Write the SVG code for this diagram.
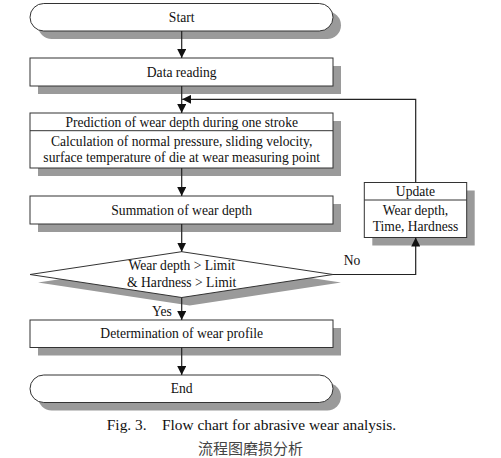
<svg xmlns="http://www.w3.org/2000/svg" width="501" height="458" viewBox="0 0 501 458">
<style>
.sh{fill:#9a9a9a;stroke:none}
.bx{fill:#fff;stroke:#333;stroke-width:1}
.t{font-family:"Liberation Serif","Times New Roman",serif;font-size:13.6px;fill:#111;text-anchor:middle}
.ln{fill:none;stroke:#222;stroke-width:1.2}
.cap{font-family:"Liberation Serif","Times New Roman",serif;font-size:15.4px;fill:#111;text-anchor:middle}
.cn{font-family:"Noto Sans CJK SC",serif;font-size:15px;fill:#444;text-anchor:middle}
</style>
<defs>
<marker id="ah" viewBox="0 0 10 10" refX="10" refY="5" markerWidth="9" markerHeight="9" markerUnits="userSpaceOnUse" orient="auto">
<path d="M0,0 L10,5 L0,10 z" fill="#111"/>
</marker>
</defs>
<rect width="501" height="458" fill="#fff"/>
<g id="start">
<rect class="sh" x="38" y="11.5" width="303" height="27.5" rx="13.75"/>
<rect class="bx" x="30" y="3.5" width="303" height="27.5" rx="13.75"/>
<text class="t" x="181.7" y="21.8">Start</text>
</g>
<g id="data-reading">
<rect class="sh" x="38" y="66" width="303" height="28"/>
<rect class="bx" x="30" y="58" width="303" height="28"/>
<text class="t" x="181.7" y="76.8">Data reading</text>
</g>
<g id="prediction">
<rect class="sh" x="38" y="121" width="303" height="55"/>
<rect class="bx" x="30" y="113" width="303" height="55"/>
<line class="bx" x1="30" y1="130.7" x2="333" y2="130.7"/>
<text class="t" x="181.7" y="126.8">Prediction of wear depth during one stroke</text>
<text class="t" x="181.7" y="146.3">Calculation of normal pressure, sliding velocity,</text>
<text class="t" x="181.7" y="162.3">surface temperature of die at wear measuring point</text>
</g>
<g id="summation">
<rect class="sh" x="38" y="204" width="303" height="28"/>
<rect class="bx" x="30" y="196" width="303" height="28"/>
<text class="t" x="181.7" y="214.8">Summation of wear depth</text>
</g>
<g id="update">
<rect class="sh" x="372.3" y="190.5" width="102.4" height="55"/>
<rect class="bx" x="364.3" y="182.5" width="102.4" height="55"/>
<line class="bx" x1="364.3" y1="200" x2="466.7" y2="200"/>
<text class="t" x="415.5" y="195.8">Update</text>
<text class="t" x="415.5" y="215.3">Wear depth,</text>
<text class="t" x="415.5" y="231.3">Time, Hardness</text>
</g>
<g id="decision">
<polygon class="sh" points="189.7,259.7 341,282.5 189.7,305.5 38,282.5"/>
<polygon class="bx" points="181.7,251.7 333,274.5 181.7,297.5 30,274.5"/>
<text class="t" x="181.7" y="270.3">Wear depth &gt; Limit</text>
<text class="t" x="181.7" y="286.8">&amp; Hardness &gt; Limit</text>
</g>
<g id="determination">
<rect class="sh" x="38" y="328" width="303" height="27.5"/>
<rect class="bx" x="30" y="320" width="303" height="27.5"/>
<text class="t" x="181.7" y="338.3">Determination of wear profile</text>
</g>
<g id="end">
<rect class="sh" x="38" y="383" width="303" height="27.5" rx="13.75"/>
<rect class="bx" x="30" y="375" width="303" height="27.5" rx="13.75"/>
<text class="t" x="181.7" y="393.3">End</text>
</g>
<g id="connectors">
<line class="ln" x1="181.7" y1="31" x2="181.7" y2="58" marker-end="url(#ah)"/>
<line class="ln" x1="181.7" y1="86" x2="181.7" y2="113" marker-end="url(#ah)"/>
<polyline class="ln" points="415.7,182.5 415.7,99.3 182.2,99.3" marker-end="url(#ah)"/>
<line class="ln" x1="181.7" y1="168" x2="181.7" y2="196" marker-end="url(#ah)"/>
<line class="ln" x1="181.7" y1="224" x2="181.7" y2="251.7" marker-end="url(#ah)"/>
<polyline class="ln" points="333,274.5 415.7,274.5 415.7,237.5" marker-end="url(#ah)"/>
<line class="ln" x1="181.7" y1="297.5" x2="181.7" y2="320" marker-end="url(#ah)"/>
<line class="ln" x1="181.7" y1="347.5" x2="181.7" y2="375" marker-end="url(#ah)"/>
<text class="t" x="352" y="265.3">No</text>
<text class="t" x="162" y="316.3">Yes</text>
</g>
<g id="caption">
<text class="cap" x="251.5" y="430" xml:space="preserve">Fig. 3.    Flow chart for abrasive wear analysis.</text>
<text class="cn" x="250.5" y="453.5">流程图磨损分析</text>
</g>
</svg>
